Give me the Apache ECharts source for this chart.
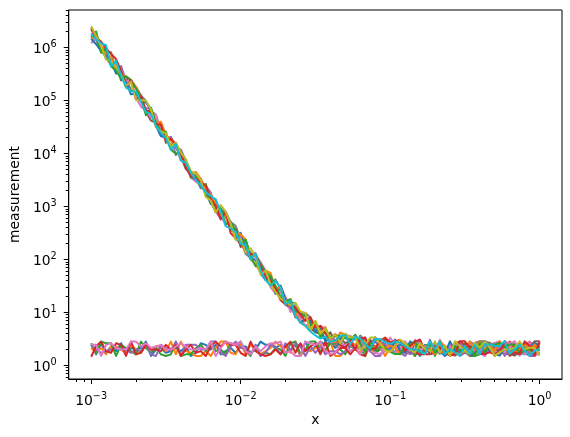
<!DOCTYPE html>
<html><head><meta charset="utf-8">
<script src="https://cdn.jsdelivr.net/npm/echarts@6/dist/echarts.min.js"></script>
<style>html,body{margin:0;padding:0;background:#fff}#c{width:570px;height:437px}</style>
</head><body><div id="c"></div>
<script>
const xs = [0.001,0.00108,0.001166,0.001259,0.001359,0.001468,0.001585,0.001711,0.001848,0.001995,
 0.002154,0.002326,0.002512,0.002712,0.002929,0.003162,0.003415,0.003687,0.003981,0.004299,
 0.004642,0.005012,0.005412,0.005843,0.00631,0.006813,0.007356,0.007943,0.008577,0.009261,
 0.01,0.0108,0.01166,0.01259,0.01359,0.01468,0.01585,0.01711,0.01848,0.01995,
 0.02154,0.02326,0.02512,0.02712,0.02929,0.03162,0.03415,0.03687,0.03981,0.04299,
 0.04642,0.05012,0.05412,0.05843,0.0631,0.06813,0.07356,0.07943,0.08577,0.09261,
 0.1,0.108,0.1166,0.1259,0.1359,0.1468,0.1585,0.1711,0.1848,0.1995,
 0.2154,0.2326,0.2512,0.2712,0.2929,0.3162,0.3415,0.3687,0.3981,0.4299,
 0.4642,0.5012,0.5412,0.5843,0.631,0.6813,0.7356,0.7943,0.8577,0.9261,
 1];

// flat series (noise around ~2)
const flatBlue = [2.43,1.61,2.61,1.72,2.27,1.85,2.61,1.72,2.12,1.98,
 2.12,2.8,1.5,1.98,2.12,1.72,1.85,2.12,1.85,2.27,
 1.5,1.72,2.61,2.43,1.98,2.43,1.61,1.85,2.12,1.72,
 2.27,2.27,1.72,1.98,2.8,2.43,2.43,2.12,2.43,1.72,
 1.98,2.43,1.5,2.8,1.85,2.27,2.8,2.43,2.8,2.12,
 2.8,2.12,2.43,1.98,2.8,2.27,2.27,2.8,2.27,2.43,
 2.27,1.72,2.43,2.43,1.72,1.98,1.5,2.43,2.27,2.27,
 1.85,1.5,1.85,2.12,1.85,2.12,1.98,2.43,2.12,2.8,
 1.98,2.12,2.43,1.61,1.85,2.61,1.72,1.61,2.43,2.61,
 2.43];
const flatOrange = [2.12,1.72,2.12,1.61,2.27,2.27,1.98,1.72,2.43,1.98,
 1.72,2.43,1.98,2.27,2.27,1.85,2.8,1.61,2.8,1.85,
 1.72,1.5,1.5,1.85,1.5,2.12,2.8,2.8,1.72,1.61,
 2.61,1.61,2.43,1.98,1.61,1.85,2.12,2.8,2.27,2.27,
 1.72,2.8,1.5,1.98,1.85,2.12,2.43,1.72,2.8,1.5,
 1.5,1.85,1.85,1.98,1.72,2.8,2.12,1.72,2.27,1.5,
 2.12,2.8,2.12,2.27,1.85,1.5,2.43,1.85,2.61,1.61,
 1.85,1.72,1.85,1.72,2.61,2.27,1.72,2.43,2.8,1.98,
 1.85,1.98,2.8,1.5,2.43,2.27,1.85,1.72,1.85,1.85,
 1.61];
const flatGreen = [2.61,1.72,2.8,2.61,2.61,1.5,2.43,2.12,1.85,1.61,
 2.8,2.12,1.72,2.12,1.61,1.5,1.61,2.8,1.5,1.61,
 1.61,2.12,2.43,1.85,2.61,1.85,1.98,1.61,2.61,2.43,
 2.8,1.85,1.5,2.43,1.5,1.72,1.61,2.12,1.98,1.5,
 2.61,2.8,1.61,1.98,2.8,2.8,1.85,1.98,2.61,2.61,
 1.98,1.61,2.27,2.43,2.12,1.5,2.8,1.72,1.98,1.98,
 2.43,2.27,1.61,1.98,2.27,1.5,2.27,2.27,2.61,1.5,
 2.61,1.72,1.72,2.27,1.98,2.61,1.5,1.5,1.61,2.27,
 2.61,1.98,2.43,2.43,1.98,1.61,1.61,2.61,2.12,1.85,
 2.61];
const flatPurple = [2.43,1.98,1.72,1.85,1.98,2.12,1.98,1.98,1.72,1.98,
 1.85,2.43,1.61,1.5,2.43,2.12,1.85,2.8,1.5,2.43,
 2.43,2.43,1.98,1.98,2.8,2.8,1.72,1.5,2.27,2.8,
 2.12,2.12,1.61,2.43,1.5,1.72,2.43,2.27,1.61,2.61,
 1.85,2.61,2.27,1.5,2.27,1.72,2.27,1.61,1.85,1.85,
 1.61,1.85,2.61,1.98,2.12,2.61,1.85,1.5,1.5,2.12,
 2.43,2.12,1.72,1.5,1.98,1.98,2.8,1.85,1.85,2.61,
 1.72,2.27,2.12,2.27,1.5,1.72,2.8,2.43,2.27,1.5,
 2.27,2.43,1.85,2.43,1.61,1.61,1.85,1.72,1.5,1.5,
 1.72];
const flatRed = [1.45,2.3,2.8,1.85,1.72,2.61,2.43,1.5,2.8,1.61,
 1.72,2.43,1.98,1.98,1.85,2.43,1.98,2.43,1.5,1.98,
 2.43,1.72,1.85,1.5,2.27,2.8,2.27,2.8,2.43,2.43,
 1.72,1.5,2.8,1.85,1.61,1.5,1.61,1.98,1.61,2.27,
 2.8,1.72,2.61,1.85,2.27,2.61,1.61,2.8,1.5,1.72,
 2.12,2.12,1.61,2.12,1.61,1.5,2.61,2.27,2.12,2.43,
 1.98,2.27,1.85,2.43,2.43,1.72,1.61,1.61,1.61,1.72,
 2.12,1.72,1.85,2.61,2.8,2.43,2.61,1.98,1.98,1.72,
 2.12,1.5,2.12,2.27,2.8,2.12,1.85,2.27,2.8,2.27,
 2.61];
const flatPink = [2.43,2.43,1.5,2.43,2.61,2.12,1.98,1.98,2.8,2.8,
 2.27,2.61,2.12,2.27,2.43,1.98,1.98,2.27,2.61,2.27,
 1.98,1.98,2.12,1.98,2.8,1.5,2.12,2.8,2.61,2.43,
 2.8,1.85,1.61,2.27,1.85,2.27,2.61,2.61,2.8,1.72,
 1.85,1.5,1.5,2.8,2.61,2.43,2.8,1.85,1.61,1.72,
 2.43,2.43,1.85,2.27,1.61,2.43,2.61,1.72,1.61,2.12,
 1.98,1.72,1.98,2.8,2.27,2.8,1.72,1.72,2.8,2.12,
 2.43,2.27,1.85,2.12,1.61,1.98,2.61,1.72,1.72,1.5,
 2.61,1.72,2.27,2.8,2.61,2.8,2.12,1.61,2.8,1.85,
 1.72];

// decaying series
const decGray = [1.56e6,1.42e6,8.53e5,8.32e5,8.11e5,3.7e5,3.61e5,2.49e5,1.6e5,1.36e5,
 1.24e5,9.82e4,6.32e4,5.37e4,2.62e4,1.81e4,1.44e4,1.5e4,8410,7140,
 4010,3910,2520,1740,1290,1340,703,485,507,431,
 242,126,107,120,88.9,49.9,31.9,41.8,27.7,14.1,
 15.4,14.9,7.85,9.68,8.05,4.51,5.18,4.01,2.77,2.38,
 3.16,3.71,2.36,2.0,3.64,2.91,2.37,3.34,2.37,2.37,
 2.54,3.03,1.87,2.0,1.63,2.64,2.83,1.74,2.46,2.14,
 1.63,2.31,1.75,2.65,2.31,1.75,1.52,2.65,2.84,2.84,
 2.65,2.31,1.75,2.65,1.52,1.88,2.01,2.65,1.75,2.15,
 2.15];
const decBrown = [1.79e6,1.42e6,9.14e5,6.31e5,4.67e5,5.22e5,2.38e5,2.67e5,2.11e5,1.79e5,
 1.24e5,6.05e4,4.18e4,3.8e4,3.71e4,1.58e4,2.03e4,1.31e4,9020,5060,
 4300,2960,3320,1620,1290,773,865,640,412,375,
 171,235,115,120,67.5,49.9,45.1,22.5,31.8,18.5,
 14.4,7.98,9.02,9.04,4.97,4.21,3.93,3.04,4.19,2.74,
 3.16,2.62,2.9,3.72,2.57,1.8,3.12,1.92,2.06,3.12,
 2.37,2.83,1.74,1.74,1.74,2.64,2.14,2.3,1.63,1.87,
 2.83,2.01,1.63,1.52,1.75,2.47,1.52,1.63,2.84,1.88,
 2.65,2.15,1.75,1.63,1.63,1.52,2.15,2.15,2.15,2.84,
 2.84];
const decPurple = [2.2e6,1.42e6,1.05e6,8.91e5,5.0e5,3.7e5,4.44e5,2.32e5,2.26e5,1.79e5,
 1.01e5,6.95e4,7.26e4,3.55e4,2.13e4,1.94e4,2.03e4,9250,1.19e4,7140,
 4600,3400,2190,2450,1820,828,571,787,507,327,
 259,191,132,129,63,46.6,39.3,29.6,25.8,14.1,
 11.7,13.9,8.41,8.43,6.11,5.55,4.21,4.93,2.96,2.93,
 2.75,3.46,3.56,3.02,3.17,3.12,2.21,1.92,2.72,2.54,
 2.06,2.64,1.74,1.87,1.63,1.74,3.03,1.63,3.03,1.74,
 2.14,2.15,2.31,2.01,2.65,2.15,2.31,2.31,2.84,1.75,
 1.88,2.01,2.31,1.52,1.88,2.01,2.65,2.31,1.63,1.52,
 2.65];
const decPink = [1.2e6,1.52e6,1.05e6,7.24e5,5.0e5,4.88e5,3.61e5,2.32e5,2.26e5,1.11e5,
 7.64e4,6.49e4,4.8e4,5.37e4,2.62e4,2.39e4,1.17e4,1.4e4,7330,7140,
 3490,2960,2520,2630,1120,1020,612,485,507,284,
 277,145,123,97.7,88.9,61.4,29.8,22.5,25.8,19.8,
 10.2,12.1,7.85,5.57,6.11,5.18,5.55,4.93,2.77,3.87,
 2.95,3.71,3.56,2.14,2.76,2.06,1.8,3.34,2.06,1.8,
 3.34,2.46,1.87,2.83,1.87,3.03,1.87,2.3,2.14,1.63,
 3.03,1.63,2.47,1.63,2.15,1.88,2.31,2.01,1.88,2.31,
 2.47,2.65,2.84,1.75,2.15,2.84,1.52,1.88,2.31,1.52,
 1.75];
const decBlue = [1.46e6,1.15e6,8.53e5,7.24e5,5.36e5,3.22e5,3.37e5,2.17e5,1.3e5,1.36e5,
 9.4e4,9.16e4,6.78e4,3.31e4,2.13e4,2.08e4,1.77e4,1.31e4,9020,5420,
 3740,3180,3320,1860,1120,1020,865,787,442,248,
 318,167,100,97.7,54.8,40.6,45.1,22.5,31.8,17.3,
 12.5,9.82,6.38,7.35,7.01,4.21,5.18,2.84,3.18,3.61,
 3.16,3.46,2.9,3.72,2.76,3.34,1.92,3.34,2.54,2.21,
 1.8,3.03,1.87,1.74,2.83,2.46,1.74,1.74,2.64,2.0,
 2.83,1.63,2.84,1.88,1.75,2.31,1.63,1.63,2.47,2.84,
 1.88,1.63,1.52,2.15,1.63,1.63,2.65,2.15,2.01,2.65,
 2.15];
const decOrange = [1.46e6,1.75e6,1.05e6,7.76e5,6.59e5,3.7e5,2.93e5,2.86e5,2.43e5,1.79e5,
 1.08e5,6.05e4,6.32e4,3.8e4,3.97e4,2.23e4,1.77e4,1.4e4,7850,6670,
 3740,4490,3320,2000,1690,1090,656,685,359,305,
 297,235,100,79.4,58.7,61.4,55.5,27.6,29.6,14.1,
 17.7,9.82,6.38,5.57,4.64,6.82,4.21,5.29,2.77,2.74,
 4.16,3.71,2.52,2.46,2.95,2.91,2.21,2.21,2.72,2.06,
 2.37,2.14,1.63,2.46,2.3,2.46,2.46,2.14,2.0,1.63,
 2.83,2.31,1.52,1.75,1.63,1.88,2.84,2.01,2.84,2.01,
 2.31,1.88,2.84,2.15,1.75,1.75,2.01,2.47,1.88,2.47,
 1.88];
const decGreen = [1.56e6,2.0e6,7.96e5,9.55e5,4.36e5,3.7e5,2.55e5,2.86e5,2.43e5,1.67e5,
 1.08e5,5.27e4,7.26e4,3.8e4,2.62e4,2.56e4,1.17e4,9910,1.04e4,7660,
 3490,3650,2350,2630,1200,828,927,453,507,350,
 196,235,115,74.1,83,57.3,48.3,31.7,19.6,16.1,
 17.7,10.5,9.66,8.43,5.7,6.37,3.42,4.93,3.4,3.61,
 3.62,3.23,3.1,3.72,2.57,1.8,2.54,1.92,2.21,2.06,
 1.8,1.63,1.63,2.3,2.46,2.83,1.74,1.87,2.64,1.74,
 2.14,2.15,1.75,2.31,1.88,2.15,2.31,1.52,2.65,1.75,
 2.47,2.47,2.65,2.15,2.47,2.47,1.63,1.88,2.01,1.75,
 2.01];
const decRed = [2.36e6,1.52e6,1.29e6,9.55e5,7.57e5,6.0e5,3.61e5,1.76e5,2.43e5,1.03e5,
 1.16e5,6.49e4,5.9e4,3.55e4,3.46e4,1.69e4,1.89e4,1.5e4,1.04e4,5420,
 3740,3400,2890,2450,1380,1020,571,787,313,248,
 196,145,123,129,72.3,46.6,39.3,27.6,17.1,14.1,
 13.4,12.1,9.02,6.85,8.05,5.18,5.55,4.01,3.18,3.87,
 2.39,2.13,2.9,2.0,3.17,3.34,2.06,2.06,2.91,3.34,
 2.72,2.83,3.03,1.87,2.3,2.83,3.03,1.87,2.0,2.3,
 2.14,1.75,1.52,1.63,2.84,2.84,2.15,2.31,1.63,1.63,
 1.75,1.63,1.75,2.84,1.52,1.75,1.63,2.84,2.31,1.52,
 2.84];
const decOlive = [2.53e6,1.63e6,1.05e6,5.89e5,5.36e5,4.25e5,3.14e5,1.89e5,2.26e5,1.03e5,
 1.01e5,9.82e4,6.78e4,3.09e4,2.62e4,2.39e4,1.34e4,1.61e4,1.04e4,7660,
 4600,4190,3100,1510,1290,773,1060,787,473,231,
 242,136,162,112,51.2,61.4,34.2,24.1,18.3,16.1,
 13.4,14.9,10.4,9.68,4.64,6.82,3.93,4.93,3.18,3.87,
 2.57,3.97,3.33,3.47,1.95,2.37,3.34,3.34,2.54,1.92,
 1.8,2.3,3.03,2.64,2.0,1.74,2.64,2.0,1.87,2.83,
 1.74,2.31,1.52,2.84,2.31,1.88,1.63,2.65,2.15,2.84,
 2.15,1.52,1.75,2.01,2.01,2.15,2.84,2.01,2.15,2.15,
 1.52];
const decCyan = [1.79e6,1.42e6,1.2e6,1.1e6,4.36e5,5.6e5,2.93e5,1.76e5,1.5e5,1.46e5,
 9.4e4,6.05e4,5.51e4,3.31e4,2.45e4,1.94e4,1.17e4,1.5e4,7330,6670,
 4300,3180,2520,1860,1580,1340,807,423,385,327,
 196,191,100,129,63,40.6,31.9,39,29.6,14.1,
 16.5,8.55,6.38,5.57,4.33,3.66,3.19,3.49,2.77,2.93,
 3.62,3.71,2.52,3.47,3.17,2.54,2.06,3.12,3.12,2.72,
 2.54,2.83,2.64,2.3,2.0,2.0,1.87,1.63,2.83,2.0,
 2.83,1.63,2.01,1.75,1.52,2.31,1.63,2.47,1.63,2.47,
 2.47,2.31,2.31,2.84,1.63,2.01,2.47,1.88,1.52,1.88,
 2.01];

const xMajorTicks = [0.001, 0.01, 0.1, 1];
const yMajorTicks = [1, 10, 100, 1000, 1e4, 1e5, 1e6];

const X_MIN = 7.079e-4, X_MAX = 1.4125;
const Y_MIN = 0.551, Y_MAX = 5.09e6;

function minorTicks(lo, hi) {
  const out = [];
  for (let e = -5; e <= 7; e++) {
    for (let k = 2; k <= 9; k++) {
      const v = k * Math.pow(10, e);
      if (v >= lo && v <= hi) out.push(v);
    }
  }
  return out;
}
const xMinorTicks = minorTicks(X_MIN, X_MAX);
const yMinorTicks = minorTicks(Y_MIN, Y_MAX);

const C = {
  blue: '#1f77b4', orange: '#ff7f0e', green: '#2ca02c', red: '#d62728', purple: '#9467bd',
  brown: '#8c564b', pink: '#e377c2', gray: '#7f7f7f', olive: '#bcbd22', cyan: '#17becf'
};

const lines = [
  ['flat 1', flatBlue, C.blue], ['flat 2', flatOrange, C.orange], ['flat 3', flatGreen, C.green],
  ['flat 4', flatPurple, C.purple], ['flat 5', flatRed, C.red], ['flat 6', flatPink, C.pink],
  ['decay 1', decGray, C.gray], ['decay 2', decBrown, C.brown], ['decay 3', decPurple, C.purple],
  ['decay 4', decPink, C.pink], ['decay 5', decBlue, C.blue], ['decay 6', decOrange, C.orange],
  ['decay 7', decGreen, C.green], ['decay 8', decRed, C.red], ['decay 9', decOlive, C.olive],
  ['decay 10', decCyan, C.cyan]
];

const FONT = 'DejaVu Sans';
function powLabel(v) {
  const e = Math.round(Math.log10(v));
  const s = e < 0 ? '\u2212' + (-e) : String(e);
  return '{b|10}{s|' + s + '}';
}
const rich = {
  b: { fontSize: 13.9, lineHeight: 20, fontFamily: FONT, color: '#000' },
  s: { fontSize: 9.7, lineHeight: 12.6, verticalAlign: 'top', fontFamily: FONT, color: '#000' }
};
const tickLine = { color: '#000', width: 1 };

const chart = echarts.init(document.getElementById('c'), null, { renderer: 'canvas' });
chart.setOption({
  animation: false,
  backgroundColor: '#fff',
  grid: { left: 65, right: 8, top: 10, bottom: 58, show: true, borderColor: '#000', borderWidth: 1, backgroundColor: 'transparent' },
  xAxis: [
    {
      type: 'log', logBase: 10, min: X_MIN, max: X_MAX, position: 'bottom',
      axisLine: { show: true, lineStyle: tickLine },
      axisTick: { show: true, length: 5, lineStyle: tickLine, customValues: xMajorTicks },
      axisLabel: { customValues: xMajorTicks, formatter: powLabel, rich: rich, margin: 12 },
      splitLine: { show: false },
      name: 'x', nameLocation: 'middle', nameGap: 33,
      nameTextStyle: { fontSize: 13.9, color: '#000', fontFamily: FONT }
    },
    {
      type: 'log', logBase: 10, min: X_MIN, max: X_MAX, position: 'bottom',
      axisLine: { show: false },
      axisTick: { show: true, length: 3, lineStyle: tickLine, customValues: xMinorTicks },
      axisLabel: { show: false }, splitLine: { show: false }
    }
  ],
  yAxis: [
    {
      type: 'log', logBase: 10, min: Y_MIN, max: Y_MAX, position: 'left',
      axisLine: { show: true, lineStyle: tickLine },
      axisTick: { show: true, length: 5, lineStyle: tickLine, customValues: yMajorTicks },
      axisLabel: { customValues: yMajorTicks, formatter: powLabel, rich: rich, margin: 12, padding: [4.6, 0, 0, 0] },
      splitLine: { show: false },
      name: 'measurement', nameLocation: 'middle', nameGap: 36, nameRotate: 90,
      nameTextStyle: { fontSize: 13.9, color: '#000', fontFamily: FONT }
    },
    {
      type: 'log', logBase: 10, min: Y_MIN, max: Y_MAX, position: 'left',
      axisLine: { show: false },
      axisTick: { show: true, length: 3, lineStyle: tickLine, customValues: yMinorTicks },
      axisLabel: { show: false }, splitLine: { show: false }
    }
  ],
  series: lines.map(([name, ys, color]) => ({
    type: 'line', name: name,
    xAxisIndex: 0, yAxisIndex: 0,
    data: xs.map((x, i) => [x, ys[i]]),
    showSymbol: false, symbol: 'none', silent: true,
    lineStyle: { width: 2, color: color, join: 'round' },
    itemStyle: { color: color }
  }))
});
</script>
</body></html>
